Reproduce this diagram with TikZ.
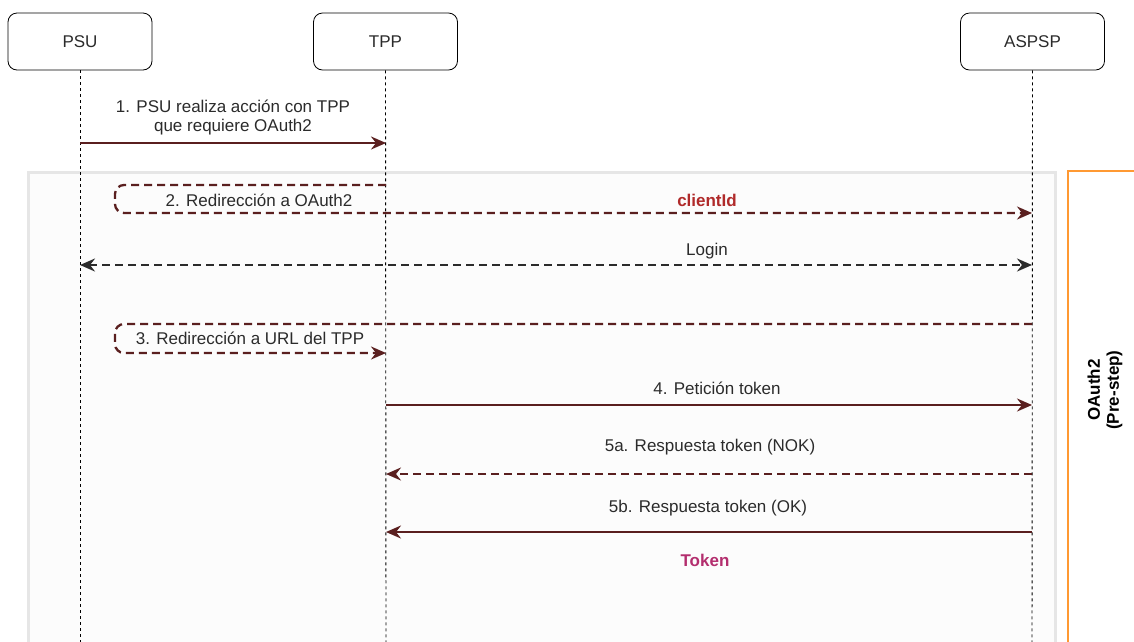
\documentclass[tikz,border=0pt]{standalone}
\usepackage{fontspec}
\setmainfont{Liberation Sans}
\usetikzlibrary{arrows.meta}
\definecolor{msgred}{HTML}{5A1F1F}
\definecolor{txtgrey}{HTML}{2B2B2B}
\definecolor{framegrey}{HTML}{E6E6E6}
\definecolor{framefill}{HTML}{FCFCFC}
\definecolor{orangeline}{HTML}{FF9933}
\definecolor{clientred}{HTML}{B02A2A}
\definecolor{tokenpink}{HTML}{B32E6E}
\tikzset{
  actor/.style={draw=black, line width=0.8pt, rounded corners=9pt, minimum width=144pt, minimum height=57pt, fill=white, text=txtgrey},
  lifeline/.style={draw=black, line width=0.9pt, dash pattern=on 3pt off 3pt},
  solidmsg/.style={draw=msgred, line width=2.3pt, -{Stealth[length=15pt,width=13pt,inset=5pt]}},
  dashmsg/.style={draw=msgred, line width=2.3pt, dash pattern=on 8pt off 5pt, -{Stealth[length=15pt,width=13pt,inset=5pt]}},
  greymsg/.style={draw=txtgrey, line width=2.3pt, dash pattern=on 8pt off 5pt, {Stealth[length=15pt,width=13pt,inset=5pt]}-{Stealth[length=15pt,width=13pt,inset=5pt]}},
  lbl/.style={text=txtgrey, inner sep=1pt, align=center},
}
\begin{document}
\begin{tikzpicture}[x=1pt,y=-1pt, font=\fontsize{17}{19}\selectfont]
\useasboundingbox (0,0) rectangle (1134,641);
\fill[white] (0,0) rectangle (1134,641);
% frame
\fill[framefill] (28,172) rectangle (1055,650);
\draw[framegrey, line width=3pt] (28,650) -- (28,172) -- (1055,172) -- (1055,650);
\draw[orangeline, line width=1.5pt] (1068,650) -- (1068,171) -- (1140,171);
\node[rotate=90, font=\fontsize{17}{19}\selectfont\bfseries, align=center, text=black] (oauth) at (1105,390) {OAuth2\\(Pre-step)};
% actors
\node[actor] (psu) at (80,41.5) {PSU};
\node[actor] (tpp) at (385.5,41.5) {TPP};
\node[actor] (aspsp) at (1032.5,41.5) {ASPSP};
\coordinate (psuend) at (80,645);
\coordinate (tppend) at (386,645);
\coordinate (aspspend) at (1032,645);
\draw[lifeline] (psu.south) -- (psuend);
\draw[lifeline] (tpp.south) -- (tppend);
\draw[lifeline] (aspsp.south) -- (aspspend);
% message 1
\coordinate (m1a) at (80,143);
\coordinate (m1b) at (386,143);
\draw[solidmsg] (m1a) -- (m1b);
\node[lbl] (l1) at (233,117) {1. PSU realiza acción con TPP\\que requiere OAuth2};
% message 2 (loop)
\coordinate (m2a) at (386,185);
\coordinate (m2c1) at (115,185);
\coordinate (m2c2) at (115,213);
\coordinate (m2b) at (1032,213);
\draw[dashmsg, rounded corners=9pt] (m2a) -- (m2c1) -- (m2c2) -- (m2b);
\node[lbl] (l2) at (259,200) {2. Redirección a OAuth2};
\node[text=clientred, font=\fontsize{17}{19}\selectfont\bfseries] (cid) at (707,200) {clientId};
% login
\coordinate (lga) at (80,265);
\coordinate (lgb) at (1032,265);
\draw[greymsg] (lga) -- (lgb);
\node[lbl] (llg) at (707,251) {Login};
% message 3 (loop)
\coordinate (m3a) at (1032,324);
\coordinate (m3c1) at (115,324);
\coordinate (m3c2) at (115,353);
\coordinate (m3b) at (386,353);
\draw[dashmsg, rounded corners=9pt] (m3a) -- (m3c1) -- (m3c2) -- (m3b);
\node[lbl] (l3) at (250,338) {3. Redirección a URL del TPP};
% message 4
\coordinate (m4a) at (386,405);
\coordinate (m4b) at (1032,405);
\draw[solidmsg] (m4a) -- (m4b);
\node[lbl] (l4) at (717,388) {4. Petición token};
% message 5a
\coordinate (m5a) at (1032,474);
\coordinate (m5b) at (386,474);
\draw[dashmsg] (m5a) -- (m5b);
\node[lbl] (l5a) at (710,447) {5a. Respuesta token (NOK)};
% message 5b
\coordinate (m6a) at (1032,532);
\coordinate (m6b) at (386,532);
\draw[solidmsg] (m6a) -- (m6b);
\node[lbl] (l5b) at (708,508) {5b. Respuesta token (OK)};
\node[text=tokenpink, font=\fontsize{17}{19}\selectfont\bfseries] (tok) at (705,560) {Token};
\end{tikzpicture}
\end{document}
